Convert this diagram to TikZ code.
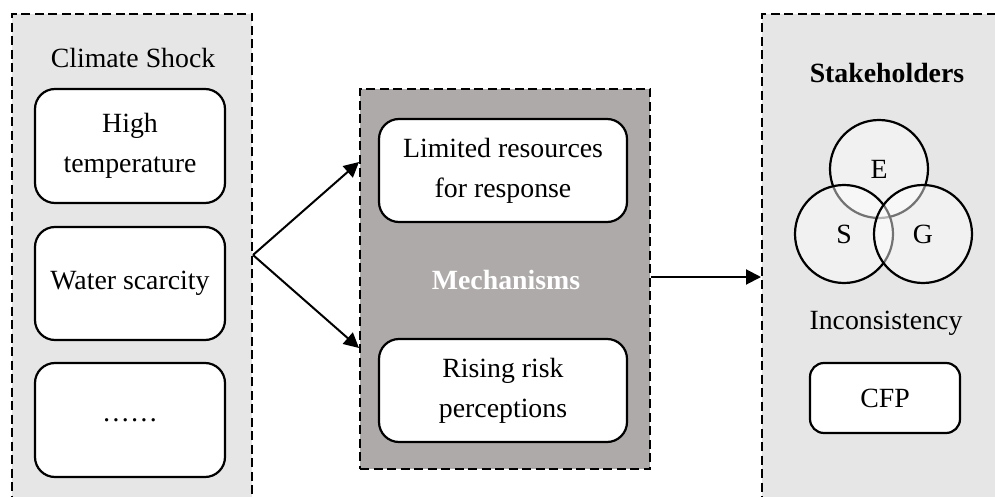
\documentclass[tikz,border=0pt]{standalone}
\usepackage{fontspec}
\setmainfont{Liberation Serif}
\usetikzlibrary{arrows.meta}
\definecolor{lightpanel}{HTML}{E6E6E6}
\definecolor{darkpanel}{HTML}{AEAAA9}
\tikzset{
  panel/.style={draw=black, line width=2pt, dash pattern=on 9pt off 4.5pt, anchor=north west, inner sep=0pt},
  itembox/.style={draw=black, fill=white, line width=2.2pt, rounded corners=20pt, align=center, inner sep=0pt, font=\fontsize{27.8}{40}\selectfont},
  lbl/.style={font=\fontsize{27.8}{40}\selectfont, inner sep=0pt},
  arr/.style={line width=2pt, -{Triangle[length=15pt,width=15pt]}},
  venn/.style={circle, draw=black, line width=2.2pt, fill=white, fill opacity=0.45, text opacity=1, minimum size=98pt, inner sep=0pt, font=\fontsize{27.8}{40}\selectfont}
}
\begin{document}
\begin{tikzpicture}[x=1pt,y=-1pt]
\useasboundingbox (0,0) rectangle (995,497);
\clip (0,0) rectangle (995,497);
\fill[white] (0,0) rectangle (995,497);
% panels
\node[panel, fill=lightpanel, minimum width=240pt, minimum height=510pt] (lp) at (11,13) {};
\node[panel, fill=darkpanel, minimum width=290pt, minimum height=380pt] (mp) at (359,88) {};
\node[panel, fill=lightpanel, minimum width=260pt, minimum height=510pt] (rp) at (761,13) {};
% left panel content
\node[lbl] (cs) at (133,58) {Climate Shock};
\node[itembox, minimum width=190pt, minimum height=114pt] (ht) at (130,146) {High\\temperature};
\node[itembox, minimum width=190pt, minimum height=113pt] (ws) at (130,283.5) {Water scarcity};
\node[itembox, minimum width=190pt, minimum height=114pt] (dots) at (130,420) {……};
% middle panel content
\node[itembox, minimum width=248pt, minimum height=103pt] (lim) at (503,170.5) {Limited resources\\for response};
\node[lbl, text=white, font=\fontsize{27.8}{40}\selectfont\bfseries] (mech) at (506,280) {Mechanisms};
\node[itembox, minimum width=248pt, minimum height=103pt] (rise) at (503,390.5) {Rising risk\\perceptions};
% right panel content
\node[lbl, font=\fontsize{27.8}{40}\selectfont\bfseries] (stk) at (887,73) {Stakeholders};
\node[venn] (E) at (879,169) {E};
\node[venn] (S) at (844,234) {S};
\node[venn] (G) at (923,234) {G};
\node[lbl] (inc) at (886,323) {Inconsistency};
\node[itembox, minimum width=150pt, minimum height=70pt, rounded corners=14pt] (cfp) at (885,398) {CFP};
% connectors
\coordinate (split) at (lp.east |- 0,255);
\coordinate (t1) at (mp.west |- 0,162);
\coordinate (t2) at (mp.west |- 0,348);
\draw[arr] (split) -- (t1);
\draw[arr] (split) -- (t2);
\coordinate (s3) at (mp.east |- 0,277);
\coordinate (t3) at (rp.west |- 0,277);
\draw[arr] (s3) -- (t3);
\end{tikzpicture}
\end{document}
